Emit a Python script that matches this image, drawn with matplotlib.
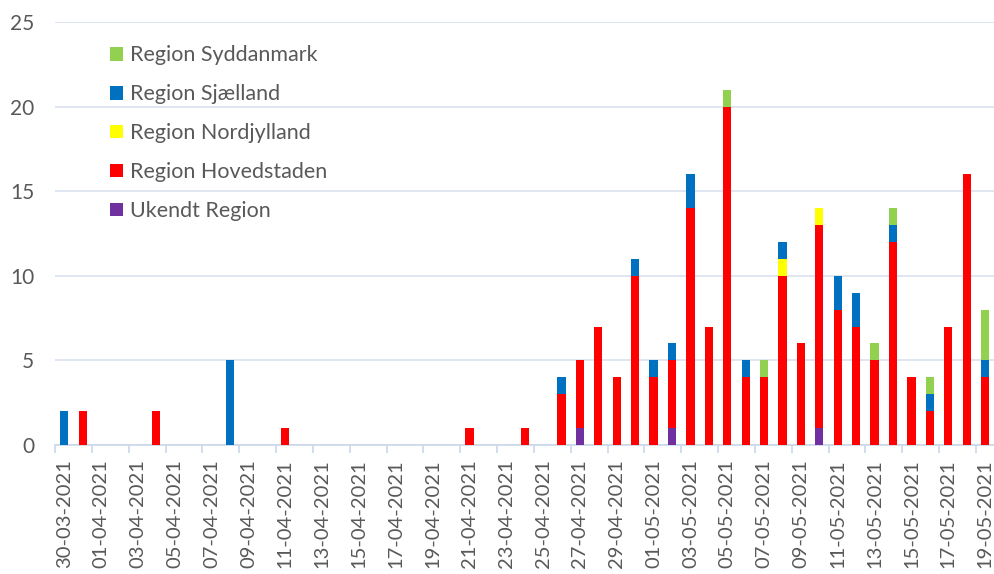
import numpy as np
import pandas as pd
import matplotlib
matplotlib.use('Agg')
import matplotlib.pyplot as plt

dates = pd.date_range('2021-03-30', '2021-05-19', freq='D')
labels = [d.strftime('%d-%m-%Y') for d in dates]

# values per day, keyed by day index offset from 30-03-2021
ukendt = {28: 1, 33: 1, 41: 1}
hovedstaden = {1: 2, 5: 2, 12: 1, 22: 1, 25: 1, 27: 3, 28: 4, 29: 7, 30: 4, 31: 10,
               32: 4, 33: 4, 34: 14, 35: 7, 36: 20, 37: 4, 38: 4, 39: 10, 40: 6,
               41: 12, 42: 8, 43: 7, 44: 5, 45: 12, 46: 4, 47: 2, 48: 7, 49: 16, 50: 4}
nordjylland = {39: 1, 41: 1}
sjaelland = {0: 2, 9: 5, 27: 1, 31: 1, 32: 1, 33: 1, 34: 2, 37: 1, 39: 1, 42: 2,
             43: 2, 45: 1, 47: 1, 50: 1}
syddanmark = {36: 1, 38: 1, 44: 1, 45: 1, 47: 1, 50: 3}

n = len(dates)
def to_arr(d):
    a = np.zeros(n)
    for k, v in d.items():
        a[k] = v
    return a

series = [
    ('Ukendt Region', to_arr(ukendt), '#7030A0'),
    ('Region Hovedstaden', to_arr(hovedstaden), '#FF0000'),
    ('Region Nordjylland', to_arr(nordjylland), '#FFFF00'),
    ('Region Sjælland', to_arr(sjaelland), '#0070C0'),
    ('Region Syddanmark', to_arr(syddanmark), '#92D050'),
]

plt.rcParams['font.family'] = ['Lato', 'DejaVu Sans']
fig = plt.figure(figsize=(9.95, 5.74), dpi=100)
ax = fig.add_axes([0.0553, 0.2247, 0.944, 0.737])

x = np.arange(n)
bottom = np.zeros(n)
for name, vals, col in series:
    ax.bar(x, vals, 0.45, bottom=bottom, color=col, label=name, zorder=3)
    bottom += vals

ax.set_xlim(-0.5, n - 0.5)
ax.set_ylim(0, 25)
ax.set_yticks(range(0, 26, 5))
ax.grid(axis='y', color='#D9E2F0', linewidth=1.2, zorder=0)
for s in ['top', 'right', 'left']:
    ax.spines[s].set_visible(False)
ax.spines['bottom'].set_color('#C9D7EA')
ax.spines['bottom'].set_linewidth(1.2)

ax.set_xticks(x[::2])
ax.set_xticklabels(labels[::2], rotation=90)
ax.set_xticks(np.arange(-0.5, n, 2), minor=True)
ax.tick_params(axis='x', which='major', length=0, pad=10, labelsize=14.5, labelcolor='#595959')
ax.tick_params(axis='x', which='minor', length=6, color='#C9D7EA', width=1.2)
ax.tick_params(axis='y', length=0, pad=15, labelsize=15, labelcolor='#595959')

h, l = ax.get_legend_handles_labels()
fig.legend(h[::-1], l[::-1], loc='upper left', bbox_to_anchor=(0.111, 0.921),
           frameon=False, fontsize=15.5, labelcolor='#595959', labelspacing=0.88,
           handlelength=0.6, handleheight=0.6, handletextpad=0.3, borderpad=0,
           borderaxespad=0)

fig.savefig('out.png', dpi=100)
